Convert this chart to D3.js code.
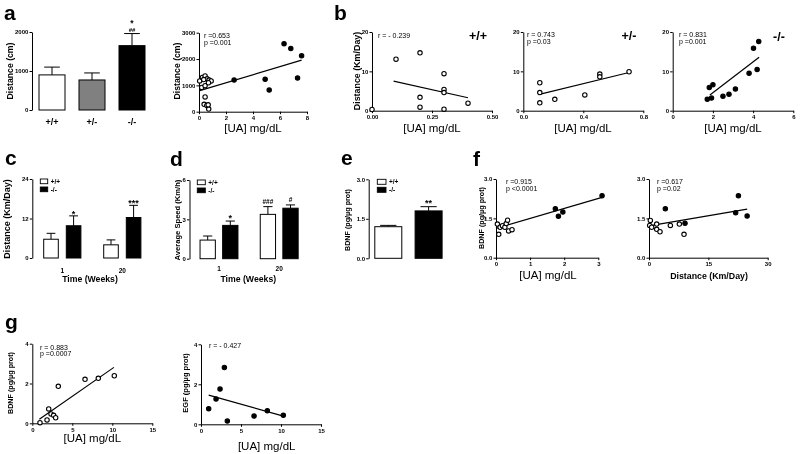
<!DOCTYPE html>
<html><head><meta charset="utf-8">
<script src="https://cdn.jsdelivr.net/npm/d3@7"></script>
<style>
body{margin:0;background:#fff}
svg{will-change:transform}
svg text{font-family:"Liberation Sans",Arial,sans-serif;fill:#000}
</style>
</head><body>
<svg id="fig" width="800" height="454"></svg>
<script>
// ---------------- DATA ----------------
// panel a (bars)
const aGeno = ["+/+","+/-","-/-"];
const aDistMean = [900, 770, 1650];
const aDistSem = [200, 180, 310];
const aYTicks = [0, 1000, 2000];
// panel a (scatter)
const aUAOpen = [[0.05,1170],[0.25,1300],[0.45,1360],[0.6,1250],[0.75,1200],[0.9,1170],[0.2,920],[0.45,990],[0.7,1100],[0.35,1220],[0.45,560],[0.38,280],[0.58,240],[0.72,100],[0.68,260]];
const aUAFilled = [[2.6,1200],[4.9,1230],[5.2,820],[6.3,2580],[6.8,2400],[7.6,2120],[7.3,1280]];
const aUAFit = [[0.05,800],[7.6,1960]];
const aScXTicks = [0,2,4,6,8];
const aScYTicks = [0,1000,2000,3000];
// panel b
const b1Open = [[0.0,0.3],[0.1,13.1],[0.2,14.7],[0.3,9.4],[0.3,5.4],[0.3,4.6],[0.2,3.4],[0.2,0.9],[0.3,0.4],[0.4,1.9]];
const b1Fit = [[0.09,7.5],[0.40,3.3]];
const b2Open = [[0.11,7.1],[0.11,4.6],[0.11,2.0],[0.21,2.9],[0.41,4.0],[0.51,9.3],[0.51,8.6],[0.705,9.9]];
const b2Fit = [[0.1,4.1],[0.705,9.7]];
const b3Filled = [[1.72,2.9],[1.93,3.2],[1.82,5.9],[2.0,6.6],[2.5,3.7],[2.8,4.2],[3.12,5.5],[3.8,9.5],[4.02,15.9],[4.2,10.5],[4.28,17.6]];
const b3Fit = [[1.85,4.0],[4.3,13.6]];
const bYTicks = [0,10,20];
const b1XTicks = [0,0.25,0.5];
const b2XTicks = [0,0.4,0.8];
const b3XTicks = [0,2,4,6];
// panel c
const weeks = ["1","20"];
const cWT = [5.7, 4.0], cWTSem = [1.8, 1.5];
const cKO = [9.8, 12.3], cKOSem = [3.0, 3.7];
const cYTicks = [0,12,24];
// panel d
const dWT = [1.42, 3.38], dWTSem = [0.31, 0.59];
const dKO = [2.54, 3.85], dKOSem = [0.33, 0.25];
const dYTicks = [0,3,6];
// panel e
const eGeno = ["+/+","-/-"];
const eBDNF = [1.2, 1.8], eSem = [0.05, 0.16];
const eYTicks = [0,1.5,3];
// panel f
const f1Open = [[0.04,1.28],[0.12,1.16],[0.19,1.22],[0.26,1.16],[0.3,1.3],[0.34,1.43],[0.37,1.02],[0.47,1.07],[0.08,0.89]];
const f1Filled = [[1.74,1.87],[1.83,1.58],[1.96,1.74],[3.11,2.36]];
const f1Fit = [[0.0,1.12],[3.11,2.3]];
const f1XTicks = [0,1,2,3];
const f2Open = [[0.17,1.23],[0.34,1.42],[0.67,1.16],[1.94,1.28],[1.94,1.08],[2.78,0.99],[5.4,1.23],[7.67,1.28],[8.85,0.89]];
const f2Filled = [[4.13,1.87],[9.1,1.31],[21.9,1.71],[22.6,2.36],[24.8,1.59]];
const f2Fit = [[0,1.21],[24.8,1.85]];
const f2XTicks = [0,15,30];
const fYTicks = [0,1.5,3];
// panel g
const g1Open = [[0.96,0.03],[1.84,0.17],[2.05,0.72],[2.34,0.47],[2.67,0.4],[2.92,0.28],[3.25,1.86],[6.59,2.21],[8.25,2.26],[10.25,2.39]];
const g1Fit = [[0.88,0.2],[10.2,2.81]];
const g2Filled = [[0.96,0.78],[1.88,1.26],[2.38,1.76],[2.92,2.84],[3.29,0.16],[6.63,0.41],[8.29,0.68],[10.29,0.45]];
const g2Fit = [[0.96,1.46],[10.29,0.41]];
const gXTicks = [0,5,10,15];
const gYTicks = [0,2,4];

// ---------------- DRAWING ----------------
const svg = d3.select("#fig");
svg.append("rect").attr("width",800).attr("height",454).attr("fill","#fff");
const TICKFS = 6;

function styleAxis(sel){
  sel.select(".domain").attr("stroke","#000").attr("stroke-width",1);
  sel.selectAll(".tick line").attr("stroke","#000").attr("stroke-width",1);
  sel.selectAll(".tick text").attr("font-size",TICKFS).attr("font-weight","bold")
     .attr("font-family","'Liberation Sans',Arial,sans-serif").attr("fill","#000");
  sel.attr("font-family",null).attr("font-size",null);
}
function yAxis(g, y, x0, ticks, fmt){
  const ax = g.append("g").attr("transform",`translate(${x0},0)`)
    .call(d3.axisLeft(y).tickValues(ticks).tickSize(2.5).tickSizeOuter(0).tickPadding(1.2).tickFormat(fmt));
  styleAxis(ax);
}
function xAxis(g, x, y0, ticks, fmt){
  const ax = g.append("g").attr("transform",`translate(0,${y0})`)
    .call(d3.axisBottom(x).tickValues(ticks).tickSize(2.5).tickSizeOuter(0).tickPadding(1.5).tickFormat(fmt));
  styleAxis(ax);
}
function txt(x,y,s,opt={}){
  return svg.append("text").attr("x",x).attr("y",y).text(s)
    .attr("font-size",opt.fs||7).attr("font-weight",opt.fw||"normal")
    .attr("text-anchor",opt.anchor||"start").attr("fill","#000");
}
function yLabel(x,y,s,fs=9){
  svg.append("text").attr("transform",`translate(${x},${y}) rotate(-90)`)
    .attr("text-anchor","middle").attr("dy","0.35em").attr("fill","#000")
    .attr("font-size",fs).attr("font-weight","bold").text(s);
}
function letter(x,y,s){ txt(x,y,s,{fs:21,fw:"bold"}); }

function scatter(c){
  const g = svg.append("g");
  const x = d3.scaleLinear().domain(c.xd).range(c.xr);
  const y = d3.scaleLinear().domain(c.yd).range(c.yr);
  yAxis(g, y, c.xr[0], c.yt, c.yf);
  xAxis(g, x, c.yr[0], c.xt, c.xf);
  if(c.fit){
    g.append("line").attr("x1",x(c.fit[0][0])).attr("y1",y(c.fit[0][1]))
      .attr("x2",x(c.fit[1][0])).attr("y2",y(c.fit[1][1]))
      .attr("stroke","#000").attr("stroke-width",1.2);
  }
  const r = c.r || 2.2;
  g.selectAll(".o").data(c.open||[]).join("circle")
    .attr("cx",d=>x(d[0])).attr("cy",d=>y(d[1])).attr("r",r)
    .attr("fill","#fff").attr("stroke","#000").attr("stroke-width",1.1);
  g.selectAll(".f").data(c.filled||[]).join("circle")
    .attr("cx",d=>x(d[0])).attr("cy",d=>y(d[1])).attr("r",r)
    .attr("fill","#000").attr("stroke","#000").attr("stroke-width",1.1);
  return {x,y};
}

function bar(g, cx, w, y, v, sem, fill){
  const y0 = y(0);
  const top = y(v), et = y(v+sem);
  g.append("line").attr("x1",cx).attr("x2",cx).attr("y1",top).attr("y2",et).attr("stroke","#000").attr("stroke-width",1);
  g.append("line").attr("x1",cx-w*0.3).attr("x2",cx+w*0.3).attr("y1",et).attr("y2",et).attr("stroke","#000").attr("stroke-width",1);
  g.append("rect").attr("x",cx-w/2).attr("y",top).attr("width",w).attr("height",y0-top)
    .attr("fill",fill).attr("stroke","#000").attr("stroke-width",1);
}
function legend(x,y,w,h){
  svg.append("rect").attr("x",x).attr("y",y).attr("width",w).attr("height",h).attr("fill","#fff").attr("stroke","#000").attr("stroke-width",0.9);
  txt(x+w+3,y+h,"+/+",{fs:6.5,fw:"bold"});
  svg.append("rect").attr("x",x).attr("y",y+8).attr("width",w).attr("height",h).attr("fill","#000").attr("stroke","#000").attr("stroke-width",0.9);
  txt(x+w+3,y+8+h,"-/-",{fs:6.5,fw:"bold"});
}
const fmtD = d3.format("d");

// ---- Panel a: bars
{
  letter(4,19.5,"a");
  const g = svg.append("g");
  const y = d3.scaleLinear().domain([0,2000]).range([110,32]);
  const x = d3.scalePoint().domain(aGeno).range([52,132]);
  yAxis(g, y, 32, aYTicks, fmtD);
  const fills = ["#fff","#808080","#000"];
  aGeno.forEach((k,i)=>bar(g, x(k), 26, y, aDistMean[i], aDistSem[i], fills[i]));
  aGeno.forEach(k=>txt(x(k),125,k,{fs:9,fw:"bold",anchor:"middle"}));
  txt(x("-/-"),25.5,"*",{fs:8.5,fw:"bold",anchor:"middle"});
  txt(x("-/-"),32,"##",{fs:6,fw:"bold",anchor:"middle"});
  yLabel(9.5,71,"Distance (cm)",8.7);
}
// ---- Panel a: scatter
{
  scatter({xd:[0,8],xr:[199,307],yd:[0,3000],yr:[111.7,32.7],xt:aScXTicks,yt:aScYTicks,xf:fmtD,yf:fmtD,
    open:aUAOpen,filled:aUAFilled,fit:aUAFit});
  txt(204,37.5,"r =0.653");
  txt(204,44.5,"p =0.001");
  yLabel(176.5,71,"Distance (cm)",8.7);
  txt(253,132,"[UA] mg/dL",{fs:11.5,anchor:"middle"});
}
// ---- Panel b
{
  letter(334,19.5,"b");
  scatter({xd:[0,0.5],xr:[372,492],yd:[0,20],yr:[110.7,32],xt:b1XTicks,yt:bYTicks,xf:d3.format(".2f"),yf:fmtD,
    open:b1Open,fit:b1Fit});
  txt(378,37.5,"r = - 0.239");
  txt(469,40,"+/+",{fs:12.5,fw:"bold"});
  yLabel(357,71,"Distance (Km/Day)",8.9);
  txt(432,132,"[UA] mg/dL",{fs:11.5,anchor:"middle"});

  scatter({xd:[0,0.8],xr:[523.3,643.3],yd:[0,20],yr:[110.7,32],xt:b2XTicks,yt:bYTicks,xf:d3.format(".1f"),yf:fmtD,
    open:b2Open,fit:b2Fit});
  txt(527,37,"r = 0.743");
  txt(527,44,"p =0.03");
  txt(621.5,40,"+/-",{fs:12.5,fw:"bold"});
  txt(583,132,"[UA] mg/dL",{fs:11.5,anchor:"middle"});

  scatter({xd:[0,6],xr:[672.7,793.3],yd:[0,20],yr:[110.7,32],xt:b3XTicks,yt:bYTicks,xf:fmtD,yf:fmtD,
    filled:b3Filled,fit:b3Fit});
  txt(679,37,"r = 0.831");
  txt(679,44,"p =0.001");
  txt(773,40.5,"-/-",{fs:12.5,fw:"bold"});
  txt(733,132,"[UA] mg/dL",{fs:11.5,anchor:"middle"});
}
// ---- Panel c
{
  letter(5,165,"c");
  const g = svg.append("g");
  const y = d3.scaleLinear().domain([0,24]).range([258,179]);
  const x = d3.scalePoint().domain(weeks).range([62.3,122.3]);
  yAxis(g, y, 32.3, cYTicks, fmtD);
  weeks.forEach((k,i)=>{
    bar(g, x(k)-11.3, 14.6, y, cWT[i], cWTSem[i], "#fff");
    bar(g, x(k)+11.3, 14.6, y, cKO[i], cKOSem[i], "#000");
    txt(x(k),273,k,{fs:6.5,fw:"bold",anchor:"middle"});
  });
  txt(x("1")+11.3, y(cKO[0]+cKOSem[0])-2, "*",{fs:9,fw:"bold",anchor:"middle"}).attr("dy","0.3em");
  txt(x("20")+11.3, y(cKO[1]+cKOSem[1])-2.5, "***",{fs:9,fw:"bold",anchor:"middle"}).attr("dy","0.3em");
  legend(40.3,179,7.4,4.7);
  yLabel(7,219,"Distance (Km/Day)",9);
  txt(90,282,"Time (Weeks)",{fs:8.7,fw:"bold",anchor:"middle"});
}
// ---- Panel d
{
  letter(170,166,"d");
  const g = svg.append("g");
  const y = d3.scaleLinear().domain([0,6]).range([258.7,180]);
  const x = d3.scalePoint().domain(weeks).range([219,279.2]);
  yAxis(g, y, 189.5, dYTicks, fmtD);
  weeks.forEach((k,i)=>{
    bar(g, x(k)-11.3, 15.3, y, dWT[i], dWTSem[i], "#fff");
    bar(g, x(k)+11.3, 15.3, y, dKO[i], dKOSem[i], "#000");
    txt(x(k),271,k,{fs:6.5,fw:"bold",anchor:"middle"});
  });
  txt(x("1")+11.3, y(dKO[0]+dKOSem[0])-3, "*",{fs:9,fw:"bold",anchor:"middle"}).attr("dy","0.3em");
  txt(x("20")-11.3, y(dWT[1]+dWTSem[1])-3, "###",{fs:6.5,fw:"bold",anchor:"middle"});
  txt(x("20")+11.3, y(dKO[1]+dKOSem[1])-3, "#",{fs:6.5,fw:"bold",anchor:"middle"});
  legend(197.3,180,8,4.7);
  yLabel(177.5,220,"Average Speed (Km/h)",7.6);
  txt(248.3,282,"Time (Weeks)",{fs:8.7,fw:"bold",anchor:"middle"});
}
// ---- Panel e
{
  letter(341,165,"e");
  const g = svg.append("g");
  const y = d3.scaleLinear().domain([0,3]).range([258.3,179.3]);
  const x = d3.scalePoint().domain(eGeno).range([388.3,428.6]);
  yAxis(g, y, 368.7, eYTicks, d3.format(".1f"));
  const fills = ["#fff","#000"];
  eGeno.forEach((k,i)=>bar(g, x(k), 27, y, eBDNF[i], eSem[i], fills[i]));
  txt(x("-/-"), y(eBDNF[1]+eSem[1])-3, "**",{fs:9,fw:"bold",anchor:"middle"}).attr("dy","0.3em");
  legend(377.3,179.3,8.7,5);
  yLabel(347,220,"BDNF (pg/µg prot)",7.2);
}
// ---- Panel f
{
  letter(473,166,"f");
  scatter({xd:[0,3],xr:[496,598.3],yd:[0,3],yr:[257.7,179],xt:f1XTicks,yt:fYTicks,xf:fmtD,yf:d3.format(".1f"),
    open:f1Open,filled:f1Filled,fit:f1Fit});
  txt(506,184,"r =0.915");
  txt(506,190.5,"p <0.0001");
  yLabel(481,218,"BDNF (pg/µg prot)",7.2);
  txt(548,279,"[UA] mg/dL",{fs:11.5,anchor:"middle"});

  scatter({xd:[0,30],xr:[649,767.7],yd:[0,3],yr:[257.7,179],xt:f2XTicks,yt:fYTicks,xf:fmtD,yf:d3.format(".1f"),
    open:f2Open,filled:f2Filled,fit:f2Fit});
  txt(657,184,"r =0.617");
  txt(657,191,"p =0.02");
  txt(709,279,"Distance (Km/Day)",{fs:8.8,fw:"bold",anchor:"middle"});
}
// ---- Panel g
{
  letter(5,329,"g");
  scatter({xd:[0,15],xr:[32.3,152.3],yd:[0,4],yr:[423.3,343.7],xt:gXTicks,yt:gYTicks,xf:fmtD,yf:fmtD,
    open:g1Open,fit:g1Fit});
  txt(40,349.5,"r = 0.883");
  txt(40,355.5,"p =0.0007");
  yLabel(10.5,383,"BDNF (pg/µg prot)",7.2);
  txt(92.3,442,"[UA] mg/dL",{fs:11.5,anchor:"middle"});

  scatter({xd:[0,15],xr:[201,321],yd:[0,4],yr:[424.3,344.3],xt:gXTicks,yt:gYTicks,xf:fmtD,yf:fmtD,
    filled:g2Filled,fit:g2Fit});
  txt(209,348,"r = - 0.427");
  yLabel(185,383,"EGF (pg/µg prot)",7.5);
  txt(266.7,450,"[UA] mg/dL",{fs:11.5,anchor:"middle"});
}
</script>
</body></html>
